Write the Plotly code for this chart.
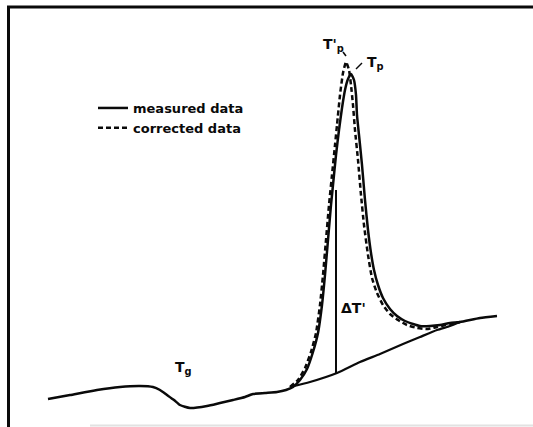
import plotly.graph_objects as go

# ---- data (x: temperature axis units, y: signal axis units, axis reversed) ----
measured_x = [48, 70, 97, 120, 140, 153, 160, 167, 174, 180, 190, 207, 220, 233, 245, 253, 265, 277, 286, 293,
              300, 307, 313, 318, 322, 325, 328, 331, 333, 336, 339, 342, 345, 348, 351,
              354, 356, 357, 359, 362, 365, 368, 371, 374, 378, 383, 390, 397, 405, 413, 420, 430, 440, 450,
              460, 480, 497]
measured_y = [399, 395, 390, 387, 386, 387, 390, 395, 400, 405, 408, 406, 403, 400, 397, 394, 393, 392, 390, 387,
              380, 369, 352, 333, 305, 275, 240, 205, 185, 155, 130, 108, 90, 79, 74,
              80, 95, 115, 135, 165, 200, 230, 253, 270, 285, 298, 309, 316, 321, 324, 326, 326, 325, 323,
              322, 318, 316]

corrected_x = [290, 298, 305, 311, 316, 320, 323, 326, 329, 332, 335, 337, 340, 343, 346,
               349, 351, 353, 355, 358, 361, 364, 368, 372, 377, 383, 390, 398, 407, 417, 428, 437, 450, 460]
corrected_y = [387, 380, 368, 352, 333, 305, 275, 240, 205, 175, 145, 125, 95, 73, 62,
               70, 85, 105, 130, 160, 195, 225, 255, 278, 293, 305, 314, 320, 325, 328, 329, 327, 324, 322]

baseline_x = [290, 310, 337, 360, 380, 403, 420, 437, 450, 460]
baseline_y = [387, 382, 373, 362, 354, 344, 337, 330, 326, 322]

delta_x = [336, 336]
delta_y = [190, 373]

tp_prime_leader_x = [343, 346]
tp_prime_leader_y = [52, 56]
tp_leader_x = [356, 362]
tp_leader_y = [69, 63]

labels = ["T'<sub>p</sub>", "T<sub>p</sub>", "T<sub>g</sub>", "\u0394T'"]
label_x = [333, 375, 183, 353]
label_y = [45, 63, 368, 308]

INK = "#0a0a0a"
FONT = "DejaVu Sans"

fig = go.Figure()

fig.add_trace(go.Scatter(x=measured_x, y=measured_y, mode="lines", name="measured data",
                         line=dict(color=INK, width=2.5, shape="spline", smoothing=0.5)))
fig.add_trace(go.Scatter(x=corrected_x, y=corrected_y, mode="lines", name="corrected data",
                         line=dict(color=INK, width=2.5, dash="5px,3px", shape="spline", smoothing=0.5)))
fig.add_trace(go.Scatter(x=baseline_x, y=baseline_y, mode="lines", showlegend=False,
                         line=dict(color=INK, width=2.2, shape="spline", smoothing=0.5)))
for xs, ys, w in [(delta_x, delta_y, 2.0), (tp_prime_leader_x, tp_prime_leader_y, 1.5),
                  (tp_leader_x, tp_leader_y, 1.5)]:
    fig.add_trace(go.Scatter(x=xs, y=ys, mode="lines", showlegend=False,
                             line=dict(color=INK, width=w)))

for t, x, y in zip(labels, label_x, label_y):
    fig.add_annotation(x=x, y=y, text=t, showarrow=False,
                       font=dict(family=FONT, size=14, color=INK, weight="bold"))

# frame (scanned border)
fig.add_shape(type="line", x0=7, x1=533, y0=7, y1=7, line=dict(color=INK, width=3))
fig.add_shape(type="line", x0=8.5, x1=8.5, y0=6, y1=427, line=dict(color=INK, width=3))
fig.add_shape(type="line", x0=90, x1=533, y0=425.5, y1=425.5, line=dict(color="#e2e2e2", width=2))

fig.update_layout(
    width=533, height=427,
    margin=dict(l=0, r=0, t=0, b=0),
    paper_bgcolor="white", plot_bgcolor="white",
    xaxis=dict(range=[0, 533], visible=False, showgrid=False, zeroline=False),
    yaxis=dict(range=[427, 0], visible=False, showgrid=False, zeroline=False),
    legend=dict(x=93 / 533, y=1 - 93 / 427, xanchor="left", yanchor="top",
                bgcolor="rgba(0,0,0,0)", tracegroupgap=0,
                font=dict(family=FONT, size=13, color=INK, weight="bold")),
    showlegend=True,
)

fig.write_html("out.html")
